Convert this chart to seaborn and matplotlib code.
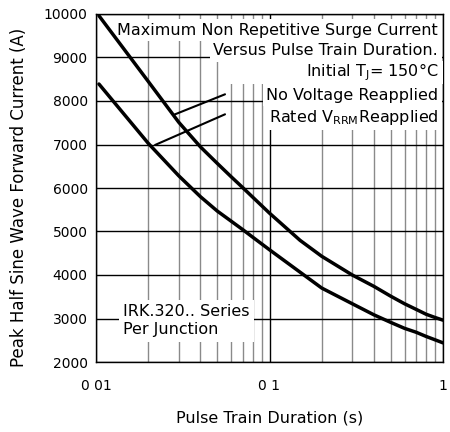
import matplotlib
matplotlib.use("Agg")
import matplotlib.pyplot as plt
import seaborn as sns
import pandas as pd
from matplotlib.patches import Rectangle
from matplotlib.ticker import FixedLocator, NullFormatter

# Surge current vs pulse train duration (IRK.320.. series, per junction)
no_voltage_t = [0.0104, 0.02, 0.03, 0.04, 0.05, 0.06, 0.07, 0.08, 0.1,
                0.15, 0.2, 0.3, 0.4, 0.5, 0.6, 0.7, 0.8, 0.9, 1.0]
no_voltage_i = [9960, 8450, 7510, 6945, 6566, 6262, 6011, 5790, 5422,
                4797, 4430, 4000, 3738, 3512, 3339, 3210, 3097, 3023, 2962]

rated_vrrm_t = [0.0104, 0.02, 0.03, 0.04, 0.05, 0.06, 0.07, 0.08, 0.1,
                0.2, 0.3, 0.4, 0.5, 0.6, 0.7, 0.8, 0.9, 1.0]
rated_vrrm_i = [8390, 7028, 6280, 5800, 5470, 5240, 5045, 4870, 4580,
                3700, 3339, 3084, 2910, 2774, 2684, 2587, 2510, 2440]

x_ticks = [0.01, 0.1, 1]
x_tick_labels = ["0 01", "0 1", "1"]
y_ticks = [2000, 3000, 4000, 5000, 6000, 7000, 8000, 9000, 10000]

sns.set_theme(style="white")
plt.rcParams["font.family"] = ["DejaVu Sans"]
plt.rcParams["mathtext.fontset"] = "custom"
plt.rcParams["mathtext.rm"] = "DejaVu Sans"
for key in ("text.color", "axes.labelcolor", "xtick.color", "ytick.color"):
    plt.rcParams[key] = "black"

fig = plt.figure(figsize=(4.5, 4.32), dpi=100)
ax = fig.add_axes([96 / 450, 70 / 432, 347 / 450, 348 / 432])

df_nv = pd.DataFrame({"t": no_voltage_t, "i": no_voltage_i})
df_rv = pd.DataFrame({"t": rated_vrrm_t, "i": rated_vrrm_i})
sns.lineplot(data=df_nv, x="t", y="i", ax=ax, color="black", lw=2.5, zorder=7)
sns.lineplot(data=df_rv, x="t", y="i", ax=ax, color="black", lw=2.5, zorder=7)

ax.set_xscale("log")
ax.set_xlim(0.01, 1)
ax.set_ylim(2000, 10000)

ax.xaxis.set_major_locator(FixedLocator(x_ticks))
ax.set_xticklabels(x_tick_labels)
minor = [m * d for d in (0.01, 0.1) for m in range(2, 10)]
ax.xaxis.set_minor_locator(FixedLocator(minor))
ax.xaxis.set_minor_formatter(NullFormatter())
ax.set_yticks(y_ticks)
ax.set_yticklabels([str(v) for v in y_ticks])

ax.tick_params(axis="both", which="both", length=0, labelsize=10)
ax.tick_params(axis="x", pad=12)
ax.tick_params(axis="y", pad=6)

ax.grid(False)
ax.xaxis.grid(True, which="major", color="black", lw=1.0)
ax.xaxis.grid(True, which="minor", color="#8a8a8a", lw=1.0)
ax.yaxis.grid(True, which="major", color="black", lw=1.0)
ax.set_axisbelow(True)
for s in ax.spines.values():
    s.set_color("black")
    s.set_linewidth(1.0)

ax.set_xlabel("Pulse Train Duration (s)", fontsize=11.5, labelpad=13)
ax.set_ylabel("Peak Half Sine Wave Forward Current (A)", fontsize=12)
ax.yaxis.set_label_coords(-0.196, 0.474)

tx = ax.transAxes
title_lines = [
    ("Maximum Non Repetitive Surge Current", 0.954),
    ("Versus Pulse Train Duration.", 0.895),
    (r"Initial T$_{\rm J}$= 150°C", 0.833),
    ("No Voltage Reapplied", 0.767),
    (r"Rated V$_{\rm RRM}$Reapplied", 0.704),
]
for txt, yy in title_lines:
    ax.text(0.986, yy, txt, transform=tx, ha="right", va="center",
            fontsize=11.5, zorder=5,
            bbox=dict(facecolor="white", edgecolor="none", pad=2.5))

# white backing that widens the condition row to the label column
ax.add_patch(Rectangle((0.363, 0.80), 0.637, 0.066, transform=tx,
                       facecolor="white", edgecolor="none", zorder=4.5))

# leader lines from labels to curves
ax.plot([0.0554, 0.0279], [8154, 7678], color="black", lw=1.5, zorder=6)
ax.plot([0.0554, 0.0219], [7694, 6989], color="black", lw=1.5, zorder=6)

ax.text(0.078, 0.119, "IRK.320.. Series\nPer Junction", transform=tx,
        ha="left", va="center", fontsize=11.5, linespacing=1.3, zorder=5,
        bbox=dict(facecolor="white", edgecolor="none", pad=3))

fig.savefig("out.png", dpi=100)
